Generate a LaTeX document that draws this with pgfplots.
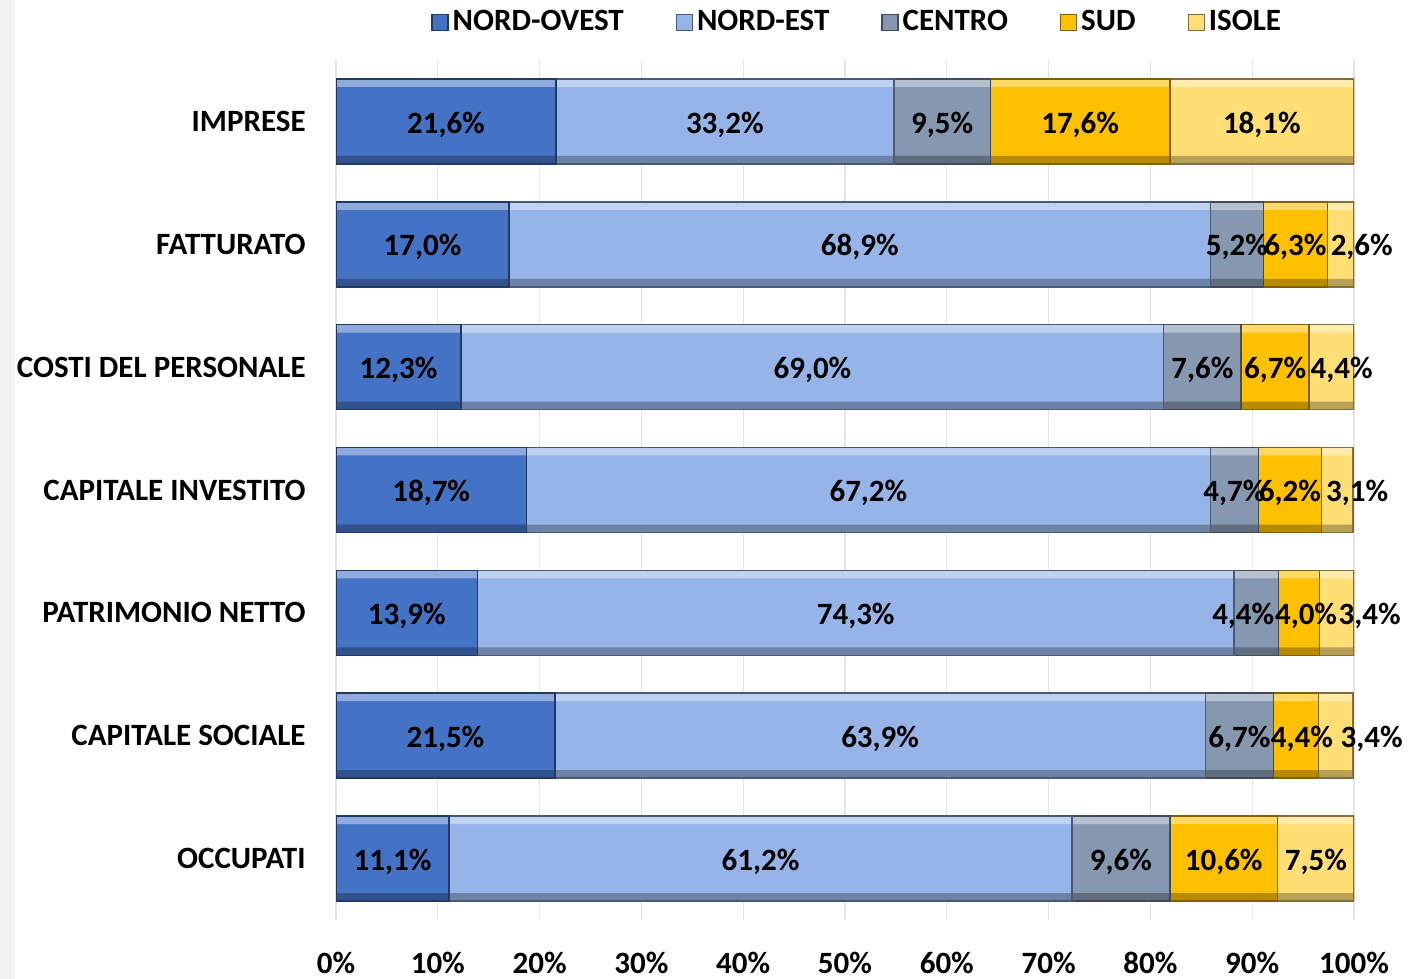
\documentclass[border=0pt]{standalone}
\usepackage{fontspec}
\setmainfont{Carlito}
\usepackage{pgfplots}
\usepackage{pgfplotstable}
\pgfplotsset{compat=1.18}
\definecolor{cNO}{RGB}{68,114,196}
\definecolor{cNE}{RGB}{150,180,232}
\definecolor{cCE}{RGB}{134,151,176}
\definecolor{cSU}{RGB}{255,192,0}
\definecolor{cIS}{RGB}{255,222,117}
\newcommand\fs{\fontsize{15.5}{18}\selectfont\bfseries}

% values (%) and horizontal label offsets (pt) for crowded labels
\pgfplotstableread{
y no ne ce su is dce dsu dis
6 21.6 33.2 9.5 17.6 18.1 0 0 0
5 17.0 68.9 5.2 6.3 2.6 0 0 10.5
4 12.3 69.0 7.6 6.7 4.4 0 0 5
3 18.7 67.2 4.7 6.2 3.1 0 0 10
2 13.9 74.3 4.4 4.0 3.4 -6.5 3.5 16.5
1 21.5 63.9 6.7 4.4 3.4 0 3 18
0 11.1 61.2 9.6 10.6 7.5 0 0 0
}\data

\pgfplotsset{base/.style={
  xbar stacked, bar width=42.5pt, scale only axis, width=509pt, height=430pt,
  xmin=0, xmax=100, ymin=-0.5, ymax=6.5, at={(168pt,29.5pt)}, anchor=south west,
  axis line style={draw=none}, major tick length=0pt,
  ytick={0,...,6}, xtick={0,10,...,100},
}}

\begin{document}
\begin{tikzpicture}
\fill[white] (0,0) rectangle (704pt,489.5pt);
\fill[black!5] (0,0) rectangle (7.5pt,489.5pt);
\path[use as bounding box] (0,0) rectangle (704pt,489.5pt);

% main bars, grid, ticks, legend
\begin{axis}[base,
  xmajorgrids, grid style={black!10, line width=0.6pt},
  xticklabels={0\%,10\%,20\%,30\%,40\%,50\%,60\%,70\%,80\%,90\%,100\%},
  yticklabels={OCCUPATI,CAPITALE SOCIALE,PATRIMONIO NETTO,CAPITALE INVESTITO,COSTI DEL PERSONALE,FATTURATO,IMPRESE},
  ticklabel style={font=\fs},
  xticklabel style={anchor=center, yshift=-21.5pt},
  yticklabel style={anchor=east, inner sep=0pt, xshift=-15pt},
  legend columns=5,
  legend style={at={(0.513,1.044)}, anchor=center, draw=none, fill=none, font=\fs,
    /tikz/every even column/.append style={column sep=24pt}},
  legend image code/.code={\draw[#1, line width=0.6pt] (-5pt,-4pt) rectangle (3pt,4pt);},
]
\addplot[fill=cNO, draw=cNO!50!black, line width=0.8pt] table[x=no,y=y]{\data};
\addlegendentry{NORD-OVEST}
\addplot[fill=cNE, draw=cNE!50!black, line width=0.8pt] table[x=ne,y=y]{\data};
\addlegendentry{NORD-EST}
\addplot[fill=cCE, draw=cCE!50!black, line width=0.8pt] table[x=ce,y=y]{\data};
\addlegendentry{CENTRO}
\addplot[fill=cSU, draw=cSU!50!black, line width=0.8pt] table[x=su,y=y]{\data};
\addlegendentry{SUD}
\addplot[fill=cIS, draw=cIS!50!black, line width=0.8pt] table[x=is,y=y]{\data};
\addlegendentry{ISOLE}
\end{axis}

% bevel: light top band
\begin{axis}[base, hide axis, bar width=4pt, bar shift=19.25pt]
\addplot[fill=cNO!60!white, draw=none] table[x=no,y=y]{\data};
\addplot[fill=cNE!60!white, draw=none] table[x=ne,y=y]{\data};
\addplot[fill=cCE!60!white, draw=none] table[x=ce,y=y]{\data};
\addplot[fill=cSU!60!white, draw=none] table[x=su,y=y]{\data};
\addplot[fill=cIS!60!white, draw=none] table[x=is,y=y]{\data};
\end{axis}

% bevel: dark bottom band
\begin{axis}[base, hide axis, bar width=4pt, bar shift=-19.25pt]
\addplot[fill=cNO!72!black, draw=none] table[x=no,y=y]{\data};
\addplot[fill=cNE!72!black, draw=none] table[x=ne,y=y]{\data};
\addplot[fill=cCE!72!black, draw=none] table[x=ce,y=y]{\data};
\addplot[fill=cSU!72!black, draw=none] table[x=su,y=y]{\data};
\addplot[fill=cIS!72!black, draw=none] table[x=is,y=y]{\data};
\end{axis}

% outlines
\begin{axis}[base, hide axis]
\addplot[fill=none, draw=cNO!50!black, line width=0.8pt] table[x=no,y=y]{\data};
\addplot[fill=none, draw=cNE!50!black, line width=0.8pt] table[x=ne,y=y]{\data};
\addplot[fill=none, draw=cCE!50!black, line width=0.8pt] table[x=ce,y=y]{\data};
\addplot[fill=none, draw=cSU!50!black, line width=0.8pt] table[x=su,y=y]{\data};
\addplot[fill=none, draw=cIS!50!black, line width=0.8pt] table[x=is,y=y]{\data};
\end{axis}

% value labels
\begin{axis}[base, hide axis,
  visualization depends on={rawx \as \rawx},
  nodes near coords={\pgfmathprintnumber[fixed,fixed zerofill,precision=1,use comma,assume math mode=true]{\rawx}\%},
  every node near coord/.append style={font=\fs, text=black, anchor=center, yshift=-1.5pt},
]
\addplot[draw=none, fill=none] table[x=no,y=y]{\data};
\addplot[draw=none, fill=none] table[x=ne,y=y]{\data};
\addplot[draw=none, fill=none, visualization depends on={\thisrow{dce} \as \dx},
  every node near coord/.append style={xshift=\dx pt}] table[x=ce,y=y]{\data};
\addplot[draw=none, fill=none, visualization depends on={\thisrow{dsu} \as \dx},
  every node near coord/.append style={xshift=\dx pt}] table[x=su,y=y]{\data};
\addplot[draw=none, fill=none, visualization depends on={\thisrow{dis} \as \dx},
  every node near coord/.append style={xshift=\dx pt}] table[x=is,y=y]{\data};
\end{axis}
\end{tikzpicture}
\end{document}
